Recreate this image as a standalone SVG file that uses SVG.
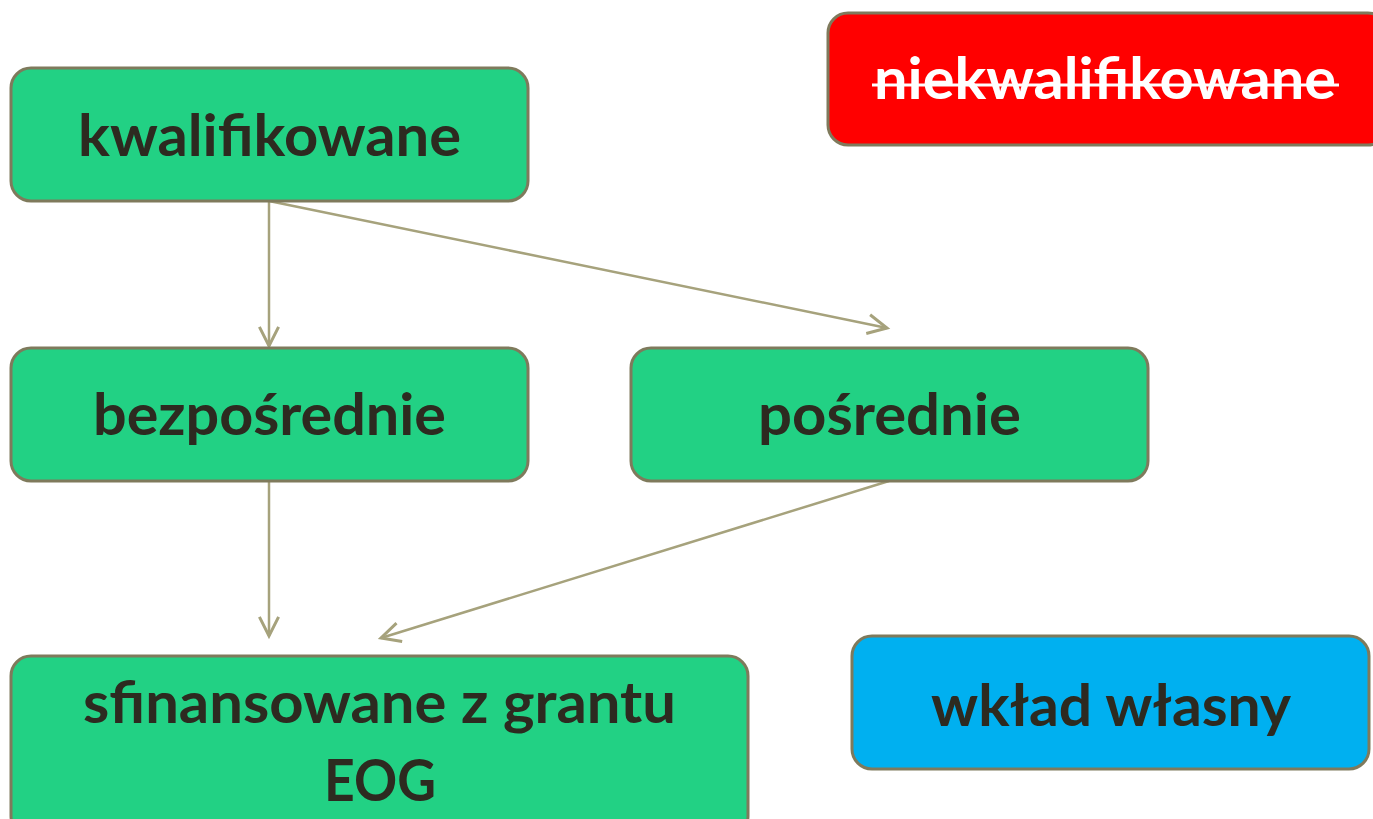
<svg xmlns="http://www.w3.org/2000/svg" width="1373" height="819" viewBox="0 0 1373 819">
<style>
.box{stroke:#7f7a5c;stroke-width:3}
.g{fill:#22d184}
.t{font-family:Lato,"Open Sans","Liberation Sans",sans-serif;font-weight:bold;font-size:58px;fill:#2d2a20;text-anchor:middle}
.c{fill:none;stroke:#a6a27c;stroke-width:2.5}
</style>
<defs>
<marker id="ah" markerUnits="userSpaceOnUse" markerWidth="24" markerHeight="24" refX="17" refY="10" orient="auto" viewBox="0 0 20 20">
<path d="M1,2 L17,10 L1,18" fill="none" stroke="#a6a27c" stroke-width="2.5"/>
</marker>
</defs>
<g id="connectors">
<line class="c" x1="269" y1="201" x2="269" y2="346" marker-end="url(#ah)"/>
<line class="c" x1="269" y1="201" x2="887" y2="328" marker-end="url(#ah)"/>
<line class="c" x1="269" y1="481" x2="269" y2="636" marker-end="url(#ah)"/>
<line class="c" x1="889" y1="481" x2="381" y2="638" marker-end="url(#ah)"/>
</g>
<g id="kwalifikowane">
<rect class="box g" x="11" y="68" width="517" height="133" rx="20"/>
<text class="t" x="269.5" y="156" textLength="383" lengthAdjust="spacingAndGlyphs">kwalifikowane</text>
</g>
<g id="niekwalifikowane">
<rect class="box" fill="#ff0000" x="828" y="13" width="560" height="132" rx="20"/>
<text class="t" x="1105" y="99" style="fill:#ffffff" textLength="462" lengthAdjust="spacingAndGlyphs">niekwalifikowane</text>
<line x1="872" y1="85" x2="1339" y2="85" stroke="#ffffff" stroke-width="3"/>
</g>
<g id="bezposrednie">
<rect class="box g" x="11" y="348" width="517" height="133" rx="20"/>
<text class="t" x="269.5" y="435" textLength="353" lengthAdjust="spacingAndGlyphs">bezpośrednie</text>
</g>
<g id="posrednie">
<rect class="box g" x="631" y="348" width="517" height="133" rx="20"/>
<text class="t" x="889.5" y="435" textLength="263" lengthAdjust="spacingAndGlyphs">pośrednie</text>
</g>
<g id="sfinansowane">
<rect class="box g" x="11" y="656" width="737" height="180" rx="20"/>
<text class="t" x="379.5" y="723" textLength="593" lengthAdjust="spacingAndGlyphs">sfinansowane z grantu</text>
<text class="t" x="380" y="801" textLength="112" lengthAdjust="spacingAndGlyphs">EOG</text>
</g>
<g id="wklad">
<rect class="box" fill="#00b0f0" x="852" y="636" width="517" height="133" rx="20"/>
<text class="t" x="1111" y="726" textLength="360" lengthAdjust="spacingAndGlyphs">wkład własny</text>
</g>
</svg>
